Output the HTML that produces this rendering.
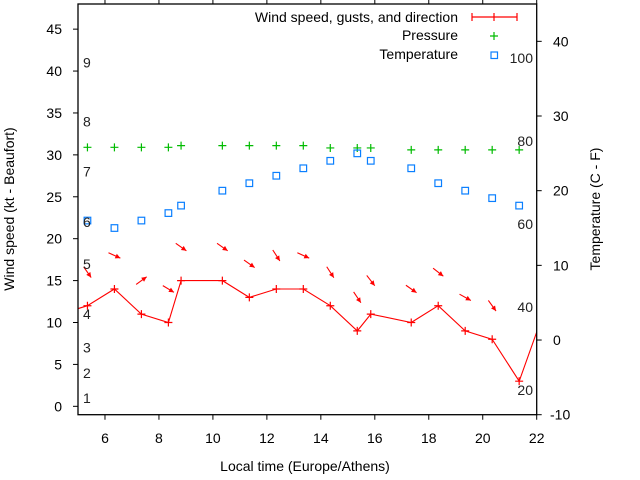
<!DOCTYPE html>
<html><head><meta charset="utf-8"><style>
html,body{margin:0;padding:0;background:#fff;}
svg{display:block;font-family:"Liberation Sans",sans-serif;}
</style></head><body>
<svg id="chart" width="640" height="480" viewBox="0 0 640 480">
<defs><clipPath id="plotclip"><rect x="78" y="4" width="458.7" height="410.7"/></clipPath></defs>
<rect x="0" y="0" width="640" height="480" fill="#fff"/>
<g id="marks" clip-path="url(#plotclip)"></g>
<rect x="78" y="4" width="458.7" height="410.7" fill="none" stroke="#000" stroke-width="1.3"/>
<g id="axes"></g>
<text x="14" y="209" font-size="14" text-anchor="middle" transform="rotate(-90 14 209)">Wind speed (kt - Beaufort)</text>
<text x="600" y="209" font-size="14" text-anchor="middle" transform="rotate(-90 600 209)">Temperature (C - F)</text>
<text x="305" y="471" font-size="14" text-anchor="middle">Local time (Europe/Athens)</text>
<g>
<g>
<text x="458" y="22" font-size="14" text-anchor="end">Wind speed, gusts, and direction</text>
<path d="M472 17H517M472 13V21M517 13V21M494 13V21" stroke="#f00" stroke-width="1.2" fill="none"/>
</g>
<g>
<text x="458" y="40" font-size="14" text-anchor="end">Pressure</text>
<path d="M490 36H498M494 32V40" stroke="#0b0" stroke-width="1.2"/>
</g>
<g>
<text x="458" y="59" font-size="14" text-anchor="end">Temperature</text>
<rect x="491" y="52" width="6.5" height="6.5" fill="none" stroke="#0a7fff" stroke-width="1.2"/>
</g>
</g>
</svg>
<script>
const times = [4.35,5.35,6.35,7.35,8.35,8.82,10.35,11.35,12.35,13.35,14.35,15.35,15.85,17.35,18.35,19.35,20.35,21.35,22.35];
const windSpeed = [11,12,14,11,10,15,15,13,14,14,12,9,11,10,12,9,8,3,12];
const arrowTimes = [5.35,6.35,7.35,8.35,8.82,10.35,11.35,12.35,13.35,14.35,15.35,15.85,17.35,18.35,19.35,20.35];
const gusts = [16,18,15,14,19,19,17,18,18,16,13,15,14,16,13,12];
const windDir = [325,294,234,301,305,305,305,327,294,327,326,322,305,308,299,324];
const obsTimes = [5.35,6.35,7.35,8.35,8.82,10.35,11.35,12.35,13.35,14.35,15.35,15.85,17.35,18.35,19.35,20.35,21.35];
const pressure = [1013,1013,1013,1013,1013.8,1013.8,1013.8,1013.8,1013.8,1012.7,1012.7,1012.7,1011.8,1011.8,1011.8,1011.8,1011.8];
const temperature = [16,15,16,17,18,20,21,22,23,24,25,24,23,21,20,19,18];
const xTicks = [6,8,10,12,14,16,18,20,22];
const yTicks = [0,5,10,15,20,25,30,35,40,45];
const y2Ticks = [-10,0,10,20,30,40];
const beaufortLabels = ["1","2","3","4","5","6","7","8","9"];
const beaufortKt = [1,4,7,11,17,22,28,34,41];
const fahrenheitLabels = [20,40,60,80,100];

const L=78,R=536.7,T=4,B=414.7;
const xS=t=>L+(t-5)/(22-5)*(R-L);
const yL=v=>B-(v+1)/(48+1)*(B-T);
const yR=v=>B-(v+10)/(45+10)*(B-T);
const yP=p=>yL(30.9+(p-1013)*0.25);
const NS="http://www.w3.org/2000/svg";
function mk(tag,attrs,parent){const e=document.createElementNS(NS,tag);for(const k in attrs)e.setAttribute(k,attrs[k]);parent.appendChild(e);return e;}
const marks=document.getElementById('marks');
const axes=document.getElementById('axes');

// wind line
let d=times.map((t,i)=>(i?'L':'M')+xS(t).toFixed(1)+' '+yL(windSpeed[i]).toFixed(1)).join('');
const wl=mk('path',{d:d,fill:'none',stroke:'#f00','stroke-width':1.1},marks);


times.forEach((t,i)=>{const x=xS(t),y=yL(windSpeed[i]);
 const p=mk('path',{d:`M${x-4} ${y}H${x+4}M${x} ${y-4}V${y+4}`,stroke:'#f00','stroke-width':1.2},marks);
 
 });
// arrows
arrowTimes.forEach((t,i)=>{const th=windDir[i]*Math.PI/180;const ux=-Math.sin(th),uy=Math.cos(th);
 const cx=xS(t),cy=yL(gusts[i]),h=6.5;
 const x1=cx-ux*h,y1=cy-uy*h,x2=cx+ux*h,y2=cy+uy*h;
 const g=mk('g',{},marks);
 
 
 mk('line',{x1:x1,y1:y1,x2:x2,y2:y2,stroke:'#f00','stroke-width':1.1},g);
 const px=-uy,py=ux,hl=5,hw=2.5;
 mk('polygon',{points:`${x2},${y2} ${x2-ux*hl+px*hw},${y2-uy*hl+py*hw} ${x2-ux*hl-px*hw},${y2-uy*hl-py*hw}`,fill:'#f00'},g);});
// pressure
obsTimes.forEach((t,i)=>{const x=xS(t),y=yP(pressure[i]);
 const p=mk('path',{d:`M${x-4} ${y}H${x+4}M${x} ${y-4}V${y+4}`,stroke:'#0b0','stroke-width':1.2},marks);
 
 });
// temperature
obsTimes.forEach((t,i)=>{const x=xS(t),y=yR(temperature[i]);
 const r=mk('rect',{x:x-3.3,y:y-3.3,width:6.6,height:6.6,fill:'none',stroke:'#0a7fff','stroke-width':1.2},marks);
 
 });
// beaufort labels
beaufortLabels.forEach((s,i)=>{const t=mk('text',{x:83,y:yL(beaufortKt[i])+5,'font-size':14,fill:'#222'},axes);t.textContent=s;
 
 });
// fahrenheit labels
fahrenheitLabels.forEach(f=>{const c=(f-32)*5/9;const t=mk('text',{x:533,y:yR(c)+5,'font-size':14,'text-anchor':'end',fill:'#222'},axes);t.textContent=f;
 
 });
// ticks
xTicks.forEach(v=>{const x=xS(v);
 mk('path',{d:`M${x} ${B}V${B+5}M${x} ${T}V${T-5}`,stroke:'#000','stroke-width':1},axes);
 const t=mk('text',{x:x,y:443,'font-size':14,'text-anchor':'middle'},axes);t.textContent=v;
 
 });
yTicks.forEach(v=>{const y=yL(v);
 mk('path',{d:`M${L} ${y}H${L-5}`,stroke:'#000','stroke-width':1},axes);
 const t=mk('text',{x:62,y:y+5,'font-size':14,'text-anchor':'end'},axes);t.textContent=v;
 
 });
y2Ticks.forEach(v=>{const y=yR(v);
 mk('path',{d:`M${R} ${y}H${R+5}`,stroke:'#000','stroke-width':1},axes);
 const t=mk('text',{x:v<0?550:553,y:y+5,'font-size':14},axes);t.textContent=v;
 
 });
</script>
</body></html>
